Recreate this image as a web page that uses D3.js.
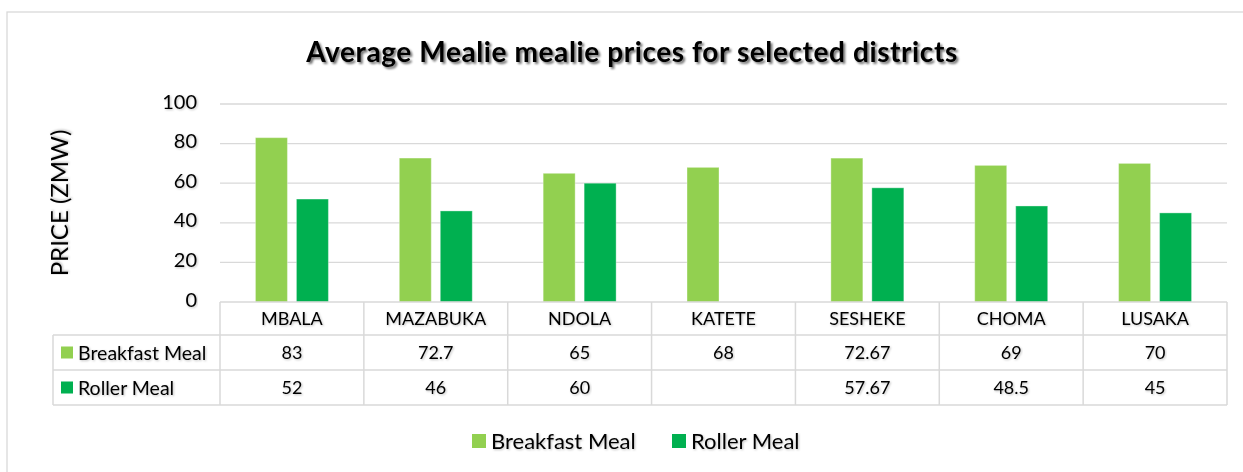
<!doctype html>
<html>
<head>
    <script src="https://d3js.org/d3.v7.min.js"></script>
    <style>
        body { margin: 0; background: #fff; }
        svg text { font-family: Lato, "Open Sans", sans-serif; fill: #000; }
        .grid line { stroke: #d9d9d9; stroke-width: 1.3; }
        .tbl line { stroke: #d9d9d9; stroke-width: 1.5; }
    </style>
</head>
<body>
<script>
    // data
    let districts = ["MBALA", "MAZABUKA", "NDOLA", "KATETE", "SESHEKE", "CHOMA", "LUSAKA"];
    let breakfastMeal = [83, 72.7, 65, 68, 72.67, 69, 70];
    let rollerMeal = [52, 46, 60, null, 57.67, 48.5, 45];
    let seriesNames = ["Breakfast Meal", "Roller Meal"];
    let seriesColors = ["#92d050", "#00b050"];
    let yTicks = [0, 20, 40, 60, 80, 100];

    let width = 1243, height = 472;
    let plotLeft = 220, plotRight = 1227, plotTop = 104, plotBase = 302;
    let rowH = [302, 335, 370, 405];

    let svg = d3.select("body").append("svg")
        .attr("width", width)
        .attr("height", height);

    // shadows
    let defs = svg.append("defs");
    defs.append("filter").attr("id", "shadowTitle")
        .attr("x", "-5%").attr("y", "-30%").attr("width", "110%").attr("height", "160%")
        .append("feDropShadow")
        .attr("dx", 2).attr("dy", 2).attr("stdDeviation", 1.2)
        .attr("flood-color", "#000").attr("flood-opacity", 0.55);
    defs.append("filter").attr("id", "shadowSoft")
        .attr("x", "-5%").attr("y", "-30%").attr("width", "110%").attr("height", "160%")
        .append("feDropShadow")
        .attr("dx", 1).attr("dy", 1).attr("stdDeviation", 0.8)
        .attr("flood-color", "#000").attr("flood-opacity", 0.25);

    // chart border
    svg.append("rect")
        .attr("x", 7).attr("y", 12)
        .attr("width", 1260).attr("height", 480)
        .attr("fill", "none")
        .attr("stroke", "#d9d9d9")
        .attr("stroke-width", 1.3);

    svg.append("text")
        .attr("x", 632).attr("y", 62)
        .attr("text-anchor", "middle")
        .attr("filter", "url(#shadowTitle)")
        .style("font-size", "28px")
        .style("font-weight", "bold")
        .style("letter-spacing", "0.6px")
        .text("Average Mealie mealie prices for selected districts");

    let x = d3.scaleBand().domain(districts).range([plotLeft, plotRight]);
    let x1 = d3.scaleBand().domain(seriesNames).range([0, x.bandwidth()])
        .paddingInner(9 / 41).paddingOuter(0.865);
    let y = d3.scaleLinear().domain([0, 100]).range([plotBase, plotTop]);

    // gridlines
    svg.append("g").attr("class", "grid")
        .selectAll("line")
        .data(yTicks.filter(d => d > 0))
        .enter().append("line")
        .attr("x1", plotLeft).attr("x2", plotRight)
        .attr("y1", d => y(d)).attr("y2", d => y(d));

    // y axis labels
    let yAxis = svg.append("g")
        .attr("transform", "translate(" + (plotLeft - 23) + ",0)")
        .call(d3.axisLeft(y).tickValues(yTicks).tickSize(0).tickPadding(0));
    yAxis.select(".domain").remove();
    yAxis.selectAll("text")
        .style("font-family", "Lato, sans-serif")
        .style("font-size", "20px")
        .attr("dy", "0.2em")
        .attr("filter", "url(#shadowSoft)");

    svg.append("text")
        .attr("transform", "translate(68,203) rotate(-90)")
        .attr("text-anchor", "middle")
        .attr("filter", "url(#shadowSoft)")
        .style("font-size", "24px")
        .text("PRICE (ZMW)");

    // bars
    let rows = districts.map((d, i) => ({ district: d, values: [breakfastMeal[i], rollerMeal[i]] }));
    let groups = svg.append("g").selectAll("g")
        .data(rows)
        .enter().append("g")
        .attr("transform", d => "translate(" + x(d.district) + ",0)");
    groups.selectAll("rect")
        .data(d => d.values.map((v, j) => ({ name: seriesNames[j], value: v, color: seriesColors[j] })))
        .enter().filter(d => d.value != null).append("rect")
        .attr("x", d => x1(d.name))
        .attr("width", x1.bandwidth())
        .attr("y", d => y(d.value))
        .attr("height", d => plotBase - y(d.value))
        .attr("fill", d => d.color)
        .attr("stroke", "#fff")
        .attr("stroke-opacity", 0.35)
        .attr("stroke-width", 1);

    // data table
    let tbl = svg.append("g").attr("class", "tbl");
    let tLeft = 53;
    tbl.append("line").attr("x1", plotLeft).attr("x2", plotRight).attr("y1", rowH[0]).attr("y2", rowH[0]);
    rowH.slice(1).forEach(h => {
        tbl.append("line").attr("x1", tLeft).attr("x2", plotRight).attr("y1", h).attr("y2", h);
    });
    tbl.append("line").attr("x1", tLeft).attr("x2", tLeft).attr("y1", rowH[1]).attr("y2", rowH[3]);
    districts.forEach(d => {
        tbl.append("line").attr("x1", x(d)).attr("x2", x(d)).attr("y1", rowH[0]).attr("y2", rowH[3]);
    });
    tbl.append("line").attr("x1", plotRight).attr("x2", plotRight).attr("y1", rowH[0]).attr("y2", rowH[3]);

    let cellText = (px, py, txt, anchor, size) => svg.append("text")
        .attr("x", px).attr("y", py)
        .attr("text-anchor", anchor || "middle")
        .attr("dy", "0.36em")
        .attr("filter", "url(#shadowSoft)")
        .style("font-size", (size || 18) + "px")
        .text(txt);

    districts.forEach(d => cellText(x(d) + x.bandwidth() / 2, (rowH[0] + rowH[1]) / 2, d));
    [breakfastMeal, rollerMeal].forEach((vals, j) => {
        let cy = (rowH[j + 1] + rowH[j + 2]) / 2;
        svg.append("rect")
            .attr("x", 61).attr("y", cy - 6)
            .attr("width", 12).attr("height", 12)
            .attr("fill", seriesColors[j]);
        cellText(78, cy, seriesNames[j], "start", 19.5);
        vals.forEach((v, i) => {
            if (v != null) cellText(x(districts[i]) + x.bandwidth() / 2, cy, v);
        });
    });

    // legend
    let legendX = [472, 672];
    let legend = svg.append("g").selectAll("g")
        .data(seriesNames)
        .enter().append("g")
        .attr("transform", (d, i) => "translate(" + legendX[i] + ",441)");
    legend.append("rect")
        .attr("x", 0).attr("y", -7)
        .attr("width", 14).attr("height", 14)
        .attr("fill", (d, i) => seriesColors[i]);
    legend.append("text")
        .attr("x", 19).attr("dy", "0.36em")
        .attr("filter", "url(#shadowSoft)")
        .style("font-size", "22px")
        .text(d => d);
</script>
</body>
</html>
